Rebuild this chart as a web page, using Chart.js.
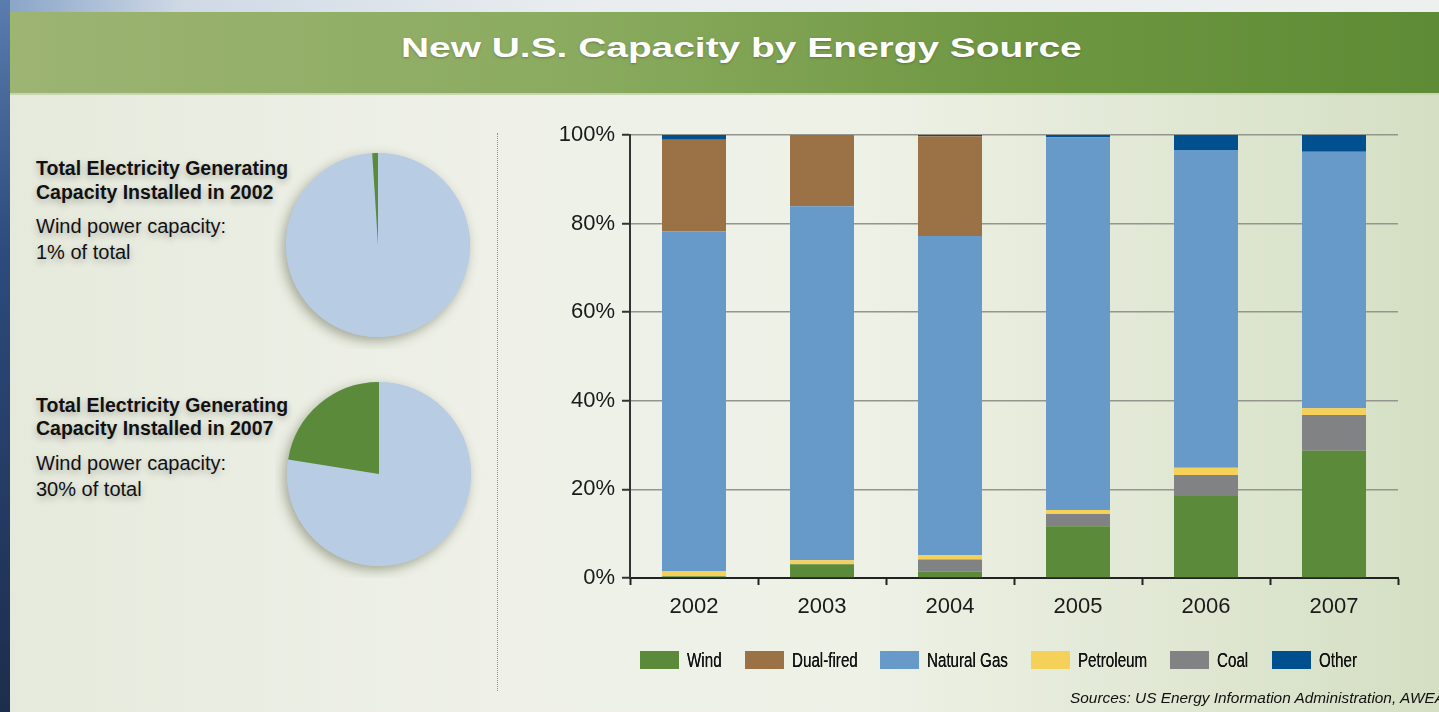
<!DOCTYPE html>
<html><head><meta charset="utf-8">
<script src="https://cdn.jsdelivr.net/npm/chart.js@4/dist/chart.umd.min.js"></script>
<style>
html,body{margin:0;padding:0;width:1439px;height:712px;overflow:hidden;}
body{position:relative;background:#1f3358;font-family:"Liberation Sans",Arial,sans-serif;}
#leftstrip{position:absolute;left:0;top:0;width:10px;height:712px;background:linear-gradient(180deg,#5a7cae 0%,#2d4b7d 35%,#1d2d4d 100%);}
#topstrip{position:absolute;left:10px;top:0;width:1429px;height:12px;background:linear-gradient(90deg,#8aa6c8 0%,#cfd9e5 12%,#e9edf0 40%,#eef0ef 100%);}
#banner{position:absolute;left:10px;top:12px;width:1429px;height:83px;background:linear-gradient(90deg,#9db473 0%,#8aab5f 40%,#6f9742 70%,#5e8b35 100%);border-bottom:2px solid #c8d5b2;box-sizing:border-box;}
#content{position:absolute;left:10px;top:95px;width:1429px;height:617px;background:linear-gradient(90deg,#e6eadc 0%,#eff1e9 35%,#eef1e6 60%,#d4dfc3 100%);}
#title{position:absolute;left:241px;top:35px;width:1000px;text-align:center;font:bold 27px/27px "Liberation Sans",Arial,sans-serif;color:#fff;white-space:nowrap;}
#title span{display:inline-block;transform:scaleX(1.44);transform-origin:50% 50%;text-shadow:0 1px 2px rgba(0,0,0,0.25);}
.t{position:absolute;left:36px;white-space:nowrap;color:#111;text-shadow:0 3px 7px rgba(0,0,0,0.28);}
.b{font:bold 19.5px/19.5px "Liberation Sans",Arial,sans-serif;}
.r{font:20px/20px "Liberation Sans",Arial,sans-serif;}
#dots{position:absolute;left:497px;top:133px;width:0;height:558px;border-left:1px dotted #8e9488;}
#src{position:absolute;left:1070px;top:690px;white-space:nowrap;font:italic 15.4px/15.4px "Liberation Sans",Arial,sans-serif;color:#111;}
.pie{position:absolute;width:208px;height:208px;}
#barwrap{position:absolute;left:500px;top:110px;width:939px;height:602px;}
#legend{position:absolute;left:640px;top:651px;height:18px;display:flex;align-items:center;white-space:nowrap;}
#legend .it{display:flex;align-items:center;margin-right:23px;}
#legend .bx{width:39px;height:18px;margin-right:8px;flex:none;}
#legend .lw{flex:none;height:18px;position:relative;}
#legend .lt{position:absolute;left:0;top:-2px;font:20.5px/21px "Liberation Sans",Arial,sans-serif;color:#111;transform:scaleX(0.74);transform-origin:0 50%;text-shadow:0 0 0.6px #111;}
</style></head>
<body>
<div id="leftstrip"></div>
<div id="topstrip"></div>
<div id="banner"></div>
<div id="content"></div>
<div id="title"><span>New U.S. Capacity by Energy Source</span></div>

<div class="t b" style="top:158.5px">Total Electricity Generating</div>
<div class="t b" style="top:182.5px">Capacity Installed in 2002</div>
<div class="t r" style="top:216px">Wind power capacity:</div>
<div class="t r" style="top:242px">1% of total</div>

<div class="t b" style="top:395.5px">Total Electricity Generating</div>
<div class="t b" style="top:419px">Capacity Installed in 2007</div>
<div class="t r" style="top:453px">Wind power capacity:</div>
<div class="t r" style="top:479px">30% of total</div>

<div id="dots"></div>

<div class="pie" style="left:274px;top:141px"><canvas id="pie1" width="208" height="208"></canvas></div>
<div class="pie" style="left:275px;top:370px"><canvas id="pie2" width="208" height="208"></canvas></div>

<div id="barwrap"><canvas id="bars" width="939" height="602"></canvas></div>
<div id="legend"></div>
<div id="src">Sources: US Energy Information Administration, AWEA</div>

<script>
// ---- data ----
const categories = ['2002','2003','2004','2005','2006','2007'];
const wind       = [0.4, 3.1, 1.4, 11.7, 18.5, 28.7];
const coal       = [0, 0, 2.8, 2.75, 4.75, 8.1];
const petroleum  = [1.2, 0.9, 1.0, 0.9, 1.65, 1.5];
const naturalGas = [76.7, 79.9, 72.0, 84.15, 71.7, 57.9];
const dualFired  = [20.6, 16.1, 22.5, 0, 0, 0];
const other      = [1.1, 0, 0.3, 0.5, 3.4, 3.8];
const yTickLabels = ['0%','20%','40%','60%','80%','100%'];
const legendOrder = ['Wind','Dual-fired','Natural Gas','Petroleum','Coal','Other'];

const pieLabels = ['Other sources','Wind'];
const pie2002 = [99, 1];
const pie2007 = [77.5, 22.5];

// ---- colours ----
const C = {wind:'#5b8a3a', dual:'#9a7246', gas:'#6799c9', pet:'#f6d15a', coal:'#808284', other:'#00508f', pieBlue:'#b8cce4'};

const pieShadow = {
  id:'pieShadow',
  beforeDatasetsDraw(chart){
    const arc = chart.getDatasetMeta(0).data[0];
    if(!arc) return;
    const ctx = chart.ctx;
    ctx.save();
    ctx.shadowColor='rgba(70,80,50,0.45)';
    ctx.shadowBlur=12; ctx.shadowOffsetX=-3; ctx.shadowOffsetY=4;
    ctx.fillStyle=C.pieBlue;
    ctx.beginPath(); ctx.arc(arc.x, arc.y, arc.outerRadius, 0, Math.PI*2); ctx.fill();
    ctx.restore();
  }
};

function makePie(id, values){
  new Chart(document.getElementById(id), {
    type:'pie',
    data:{labels:pieLabels, datasets:[{data:values, backgroundColor:[C.pieBlue, C.wind], borderWidth:0}]},
    options:{responsive:false, animation:false, layout:{padding:12},
      plugins:{legend:{display:false}, tooltip:{enabled:false}}},
    plugins:[pieShadow]
  });
}
makePie('pie1', pie2002);
makePie('pie2', pie2007);

const ds = (label, data, color) => ({label, data, backgroundColor:color, borderWidth:0, barPercentage:0.5, categoryPercentage:1.0});

const barChart = new Chart(document.getElementById('bars'), {
  type:'bar',
  data:{
    labels:categories,
    datasets:[
      ds('Wind', wind, C.wind),
      ds('Coal', coal, C.coal),
      ds('Petroleum', petroleum, C.pet),
      ds('Natural Gas', naturalGas, C.gas),
      ds('Dual-fired', dualFired, C.dual),
      ds('Other', other, C.other)
    ]
  },
  options:{
    responsive:false, animation:false,
    layout:{padding:{left:0, right:41, top:25, bottom:84}},
    plugins:{ tooltip:{enabled:false}, legend:{display:false} },
    scales:{
      x:{stacked:true,
        grid:{offset:true, drawOnChartArea:false, drawTicks:true, tickLength:7, tickColor:'#222', tickWidth:2},
        border:{display:true, color:'#222', width:2},
        ticks:{color:'#1a1a1a', font:{family:'"Liberation Sans", Arial, sans-serif', size:22}, padding:9},
        afterFit(s){ s.height = 50; }
      },
      y:{stacked:true, min:0, max:100,
        grid:{color:'#94958d', lineWidth:1.5, tickLength:8, tickColor:'#333', tickWidth:2},
        border:{display:true, color:'#333', width:2},
        ticks:{stepSize:20, padding:7, color:'#1a1a1a', font:{family:'"Liberation Sans", Arial, sans-serif', size:22},
          callback:(v,i)=>yTickLabels[i]},
        afterFit(s){ s.width = 130; }
      }
    }
  }
});

// HTML legend built from the chart's datasets, in legend order
const lg = document.getElementById('legend');
legendOrder.forEach(name => {
  const d = barChart.data.datasets.find(x => x.label === name);
  const it = document.createElement('div'); it.className = 'it';
  const bx = document.createElement('div'); bx.className = 'bx'; bx.style.background = d.backgroundColor;
  const lw = document.createElement('div'); lw.className = 'lw';
  const lt = document.createElement('span'); lt.className = 'lt'; lt.textContent = d.label;
  lw.appendChild(lt); it.appendChild(bx); it.appendChild(lw); lg.appendChild(it);
  lw.style.width = lt.getBoundingClientRect().width + 'px';
});
</script>
</body></html>
